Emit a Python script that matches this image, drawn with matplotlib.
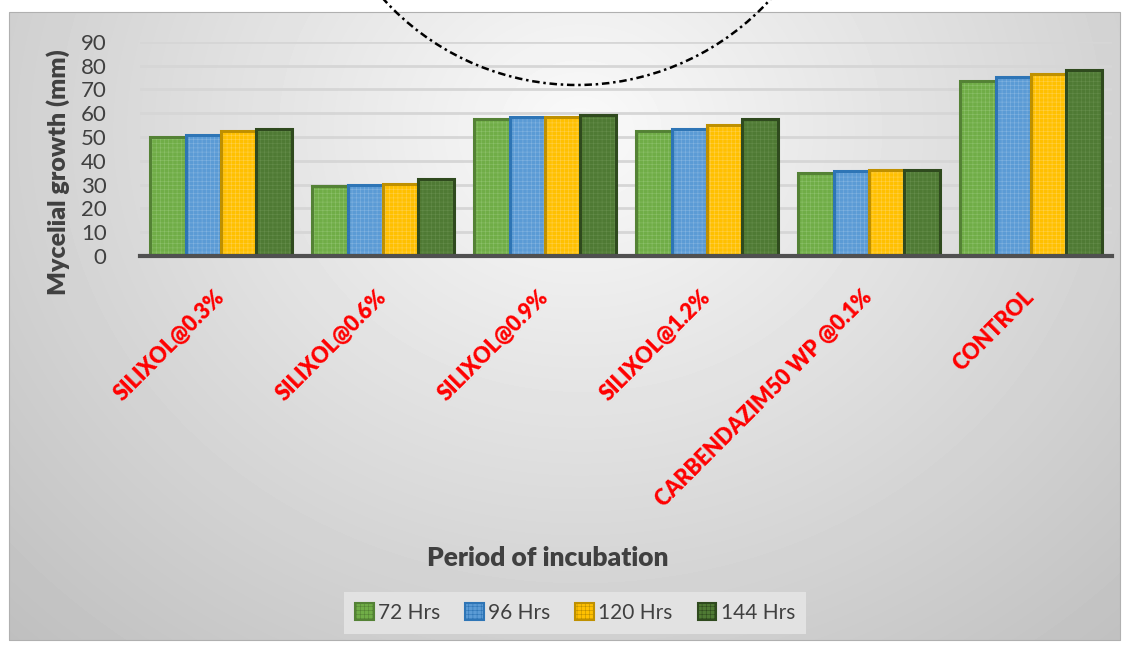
import matplotlib.pyplot as plt
import matplotlib.patches as mpatches
import numpy as np

# ------ DATA -------
CATEGORIES = ['SILIXOL@0.3%', 'SILIXOL@0.6%', 'SILIXOL@0.9%', 'SILIXOL@1.2%',
              'CARBENDAZIM50 WP @0.1%', 'CONTROL']
SERIES = ['72 Hrs', '96 Hrs', '120 Hrs', '144 Hrs']
HRS_72 = [50.2, 29.5, 57.4, 52.7, 35.0, 73.4]
HRS_96 = [51.0, 30.0, 58.3, 53.2, 35.6, 75.4]
HRS_120 = [52.7, 30.3, 58.3, 55.0, 36.1, 76.5]
HRS_144 = [53.2, 32.4, 59.2, 57.6, 36.3, 78.0]
Y_TICKS = [0, 10, 20, 30, 40, 50, 60, 70, 80, 90]

FILLS = ['#70ad47', '#5b9bd5', '#ffc000', '#4f7a34']
HATCH_COLS = ['#8cc06a', '#82b3e0', '#ffd04a', '#648c4a']
EDGES = ['#548235', '#2e75b6', '#bf9000', '#2f4a1e']

W, H = 1128, 645
plt.rcParams['font.family'] = ['Lato', 'DejaVu Sans']
plt.rcParams['hatch.linewidth'] = 0.4
fig = plt.figure(figsize=(W / 100, H / 100), dpi=100)

# background gradient inside the chart frame
bg = fig.add_axes([0, 0, 1, 1], zorder=0)
bg.set_xlim(0, W)
bg.set_ylim(H, 0)
bg.axis('off')
xx, yy = np.meshgrid(np.arange(9, 1121), np.arange(12, 641))
d = np.sqrt(((xx - 580) / 600.0) ** 2 + ((yy - 130) / 520.0) ** 2)
shade = np.clip(0.98 - 0.17 * d, 0, 1)
bg.imshow(shade, cmap='gray', vmin=0, vmax=1, extent=(9, 1121, 641, 12),
          aspect='auto', interpolation='bilinear')
bg.add_patch(mpatches.Rectangle((9, 12), 1111, 628, fill=False,
                                edgecolor='#b0b0b0', lw=0.8))

ax = fig.add_axes([140 / W, 1 - 256 / H, 972 / W, 214.2 / H], zorder=1)
ax.patch.set_alpha(0)

x = np.arange(len(CATEGORIES))
bw = 0.219
for i, vals in enumerate([HRS_72, HRS_96, HRS_120, HRS_144]):
    pos = x + (i - 1.5) * bw
    ax.bar(pos, vals, bw, color=FILLS[i], hatch='++++', edgecolor=HATCH_COLS[i],
           lw=0, zorder=2)
    ax.bar(pos, vals, bw, fill=False, edgecolor=EDGES[i], lw=2.2, zorder=3)

ax.set_xlim(-0.5, len(CATEGORIES) - 0.5)
ax.set_ylim(0, 90)
ax.set_yticks(Y_TICKS)
ax.yaxis.grid(True, color='#d6d6d6', lw=2)
ax.set_axisbelow(True)
for s in ['top', 'right', 'left']:
    ax.spines[s].set_visible(False)
ax.spines['bottom'].set_color('#505050')
ax.spines['bottom'].set_linewidth(3)
ax.spines['bottom'].set_zorder(4)
ax.tick_params(axis='both', length=0)
ax.tick_params(axis='y', labelsize=16, labelcolor='#404040', pad=24)
ax.set_xticks(x)
ax.set_xticklabels(CATEGORIES, rotation=45, ha='right', va='center',
                   rotation_mode='anchor', color='red', fontweight='heavy',
                   fontsize=15.5)
ax.tick_params(axis='x', pad=27)

fig.text(58 / W, 1 - 172 / H, 'Mycelial growth (mm)', rotation=90,
         ha='center', va='center', fontsize=18, fontweight='heavy',
         color='#404040')
fig.text(548 / W, 1 - 558 / H, 'Period of incubation', ha='center',
         va='center', fontsize=19, fontweight='heavy', color='#404040')

handles = [mpatches.Patch(facecolor=FILLS[i], edgecolor=EDGES[i], lw=1.5,
                          hatch='++++', label=SERIES[i]) for i in range(4)]
leg = ax.legend(handles=handles, loc='center', ncol=4,
                bbox_to_anchor=(575 / W, 1 - 613 / H),
                bbox_transform=fig.transFigure, frameon=True, fancybox=False,
                fontsize=15, handlelength=0.9, handleheight=0.9,
                handletextpad=0.2, columnspacing=1.2, borderpad=0.55)
leg.get_frame().set_facecolor('#e2e2e2')
leg.get_frame().set_edgecolor('none')
leg.get_frame().set_alpha(1)
for t in leg.get_texts():
    t.set_color('#404040')

# dashed arc drawn over the top of the chart
ov = fig.add_axes([0, 0, 1, 1], zorder=5)
ov.set_xlim(0, W)
ov.set_ylim(H, 0)
ov.axis('off')
ov.patch.set_alpha(0)
ov.add_patch(mpatches.Circle((577, -176), 261, fill=False, edgecolor='black',
                             lw=1.8, linestyle=(0, (3, 1.5, 1, 1.5))))

fig.savefig('out.png', dpi=100)
